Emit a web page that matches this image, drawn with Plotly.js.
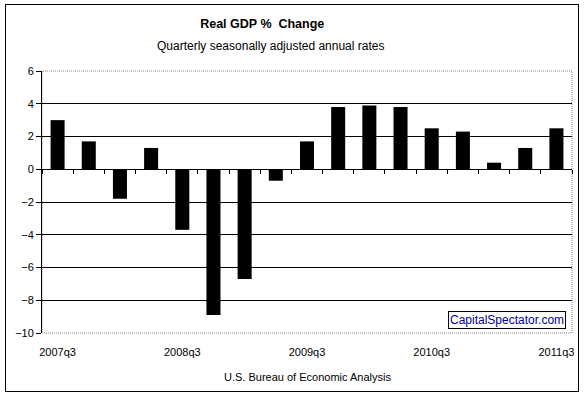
<!DOCTYPE html>
<html>
<head>
<meta charset="utf-8">
<script src="https://cdn.plot.ly/plotly-3.0.1.min.js"></script>
<style>
  html, body { margin: 0; padding: 0; background: #fff; }
  #chart { position: absolute; left: 5px; top: 4px; width: 572px; height: 386px; border: 1px solid #000; }
</style>
</head>
<body>
<div id="chart"></div>
<script>
const quarters = ["2007q3","2007q4","2008q1","2008q2","2008q3","2008q4","2009q1","2009q2","2009q3","2009q4","2010q1","2010q2","2010q3","2010q4","2011q1","2011q2","2011q3"];
const gdpChange = [3.0, 1.7, -1.8, 1.3, -3.7, -8.9, -6.7, -0.7, 1.7, 3.8, 3.9, 3.8, 2.5, 2.3, 0.4, 1.3, 2.5];
const labelQuarters = ["2007q3","2008q3","2009q3","2010q3","2011q3"];
const yTicks = [-10, -8, -6, -4, -2, 0, 2, 4, 6];
const yRange = [-10, 6];

const FONT = "Arial, 'Liberation Sans', sans-serif";

const traces = [
  {
    type: "bar",
    x: quarters,
    y: gdpChange,
    marker: { color: "#000000", line: { width: 0 } },
    xaxis: "x",
    yaxis: "y",
    hoverinfo: "x+y"
  },
  {
    type: "bar",
    x: quarters,
    y: gdpChange,
    marker: { color: "rgba(0,0,0,0)" },
    xaxis: "x2",
    yaxis: "y",
    hoverinfo: "skip",
    showlegend: false
  }
];

const zeroPos = (0 - yRange[0]) / (yRange[1] - yRange[0]);

const layout = {
  width: 572,
  height: 386,
  margin: { l: 36, r: 6, t: 66, b: 58, pad: 0 },
  paper_bgcolor: "#ffffff",
  plot_bgcolor: "#ffffff",
  showlegend: false,
  bargap: 0.55,
  font: { family: FONT, size: 11, color: "#000" },
  title: {
    text: "<b>Real GDP %  Change</b>",
    font: { family: FONT, size: 12.5, color: "#000" },
    x: 0.448, xanchor: "center", xref: "container",
    y: 0.951, yanchor: "middle", yref: "container"
  },
  xaxis: {
    type: "category",
    range: [-0.5, quarters.length - 0.5],
    tickmode: "array",
    tickvals: labelQuarters,
    ticktext: labelQuarters,
    ticks: "outside",
    ticklen: 9,
    tickcolor: "rgba(0,0,0,0)",
    showgrid: false,
    zeroline: false,
    showline: false,
    tickfont: { family: FONT, size: 11, color: "#000" },
    fixedrange: true
  },
  xaxis2: {
    type: "category",
    overlaying: "x",
    anchor: "free",
    position: zeroPos,
    side: "bottom",
    range: [-0.5, quarters.length - 0.5],
    tickson: "boundaries",
    ticks: "outside",
    ticklen: 4,
    tickwidth: 1,
    tickcolor: "#000",
    showticklabels: false,
    showgrid: false,
    zeroline: false,
    showline: false,
    fixedrange: true
  },
  yaxis: {
    range: yRange,
    tickmode: "array",
    tickvals: yTicks,
    ticks: "outside",
    ticklen: 5,
    tickwidth: 1,
    tickcolor: "#000",
    showline: true,
    linecolor: "#000",
    linewidth: 1,
    showgrid: true,
    gridcolor: "#000",
    gridwidth: 1,
    zeroline: true,
    zerolinecolor: "#000",
    zerolinewidth: 1,
    tickfont: { family: FONT, size: 11, color: "#000" },
    fixedrange: true
  },
  shapes: [
    {
      type: "rect", xref: "paper", yref: "paper",
      x0: 0, x1: 1, y0: 0, y1: 1,
      line: { color: "#808080", width: 1, dash: "1px,1px" },
      layer: "below"
    }
  ],
  annotations: [
    {
      text: "Quarterly seasonally adjusted annual rates",
      xref: "paper", yref: "paper", x: 0.432, y: 1.095,
      xanchor: "center", yanchor: "middle", showarrow: false,
      font: { family: FONT, size: 12, color: "#000" }
    },
    {
      text: "U.S. Bureau of Economic Analysis",
      xref: "paper", yref: "paper", x: 0.5, y: -0.168,
      xanchor: "center", yanchor: "middle", showarrow: false,
      font: { family: FONT, size: 11, color: "#000" }
    },
    {
      text: "CapitalSpectator.com",
      xref: "paper", yref: "paper", x: 0.877, y: 0.05,
      xanchor: "center", yanchor: "middle", showarrow: false,
      bgcolor: "#ffffff", bordercolor: "#000", borderwidth: 1, borderpad: 1,
      font: { family: FONT, size: 12, color: "#000099" }
    }
  ]
};

Plotly.newPlot("chart", traces, layout, { displayModeBar: false, staticPlot: true });
</script>
</body>
</html>
